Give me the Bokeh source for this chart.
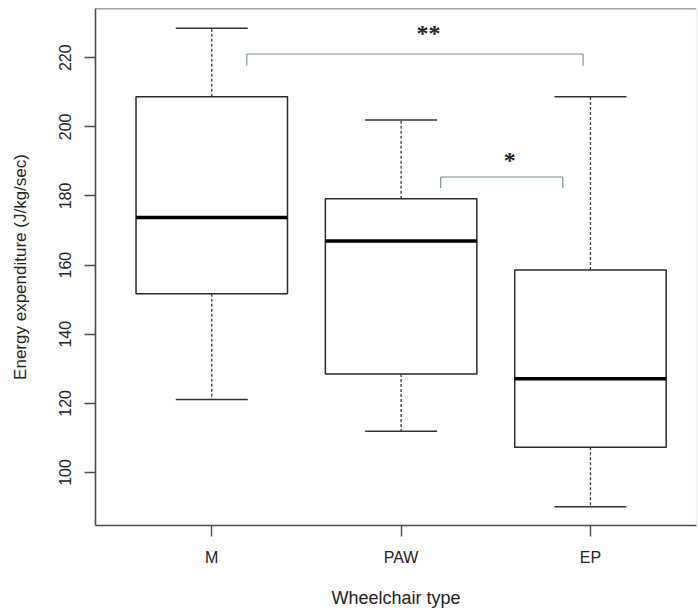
from bokeh.plotting import figure
from bokeh.models import ColumnDataSource, FixedTicker, Range1d, Span
from bokeh.core.properties import value
from bokeh.embed import file_html
from bokeh.resources import INLINE

# ---- data ----
categories = ["M", "PAW", "EP"]
lower_whisker = [121.1, 111.9, 90.1]
q1 = [151.7, 128.5, 107.3]
median = [173.8, 167.0, 127.1]
q3 = [208.7, 179.2, 158.6]
upper_whisker = [228.5, 202.0, 208.7]
y_ticks = [100, 120, 140, 160, 180, 200, 220]

# significance annotations (between groups)
sig_labels = ["**", "*"]
sig_x0 = [1.185, 2.209]
sig_x1 = [2.961, 2.854]
sig_y = [221.1, 185.5]
sig_drop = [3.4, 3.2]
sig_text_x = [2.144, 2.574]
sig_text_y = [227.3, 190.4]

pos = [i + 1 for i in range(len(categories))]
half_box = 0.40
half_cap = 0.19

src = ColumnDataSource(dict(
    x=pos,
    left=[p_ - half_box for p_ in pos],
    right=[p_ + half_box for p_ in pos],
    cap0=[p_ - half_cap for p_ in pos],
    cap1=[p_ + half_cap for p_ in pos],
    lw=lower_whisker, q1=q1, med=median, q3=q3, uw=upper_whisker,
))

x_start, x_end = 0.386, 3.56
y_start, y_end = 84.65, 234.25

p = figure(width=698, height=610, output_backend="svg", toolbar_location=None,
           x_range=Range1d(x_start, x_end), y_range=Range1d(y_start, y_end),
           min_border_left=95, min_border_right=2, min_border_top=8, min_border_bottom=85)
p.grid.visible = False
p.outline_line_color = None
p.background_fill_color = "white"
p.border_fill_color = "white"

frame_col = "#4a4a4a"
for ax in (p.xaxis[0], p.yaxis[0]):
    ax.axis_line_color = frame_col
    ax.axis_line_width = 1.6
    ax.major_tick_line_color = frame_col
    ax.major_tick_line_width = 1.4
    ax.major_tick_out = 11
    ax.major_tick_in = 0
    ax.minor_tick_line_color = None
    ax.major_label_text_font = "Liberation Sans"
    ax.major_label_text_font_size = "16px"
    ax.major_label_text_color = "#222222"
    ax.axis_label_text_font = "Liberation Sans"
    ax.axis_label_text_font_style = "normal"
    ax.axis_label_text_color = "#222222"

p.yaxis.ticker = FixedTicker(ticks=y_ticks)
p.yaxis.major_label_orientation = "parallel"
p.yaxis.major_label_standoff = 13
p.yaxis.axis_label = "Energy expenditure (J/kg/sec)"
p.yaxis.axis_label_text_font_size = "17px"
p.yaxis.axis_label_standoff = 27

p.xaxis.ticker = FixedTicker(ticks=pos)
p.xaxis.major_label_overrides = {p_: c for p_, c in zip(pos, categories)}
p.xaxis.major_label_standoff = 12
p.xaxis.axis_label = "Wheelchair type"
p.xaxis.axis_label_text_font_size = "18px"
p.xaxis.axis_label_standoff = 19

# top and right frame lines
p.add_layout(Span(location=y_end, dimension="width", line_color=frame_col, line_width=1.6))
p.add_layout(Span(location=x_end, dimension="height", line_color="#e2e2e2", line_width=1.2))

# whiskers
p.segment(x0="x", y0="q3", x1="x", y1="uw", source=src, line_color="#3a3a3a",
          line_width=1.3, line_dash="3 2")
p.segment(x0="x", y0="q1", x1="x", y1="lw", source=src, line_color="#3a3a3a",
          line_width=1.3, line_dash="3 2")
# caps
p.segment(x0="cap0", y0="uw", x1="cap1", y1="uw", source=src, line_color="#333333", line_width=1.5)
p.segment(x0="cap0", y0="lw", x1="cap1", y1="lw", source=src, line_color="#333333", line_width=1.5)
# boxes
p.quad(left="left", right="right", bottom="q1", top="q3", source=src,
       fill_color="white", line_color="#2a2a2a", line_width=1.5)
# medians
p.segment(x0="left", y0="med", x1="right", y1="med", source=src, line_color="black", line_width=3.5)

# significance brackets
bcol = "#6f8b92"
sig_src = ColumnDataSource(dict(
    x0=sig_x0, x1=sig_x1, y=sig_y,
    yd=[y - d for y, d in zip(sig_y, sig_drop)],
    tx=sig_text_x, ty=sig_text_y, t=sig_labels,
))
p.segment(x0="x0", y0="y", x1="x1", y1="y", source=sig_src, line_color=bcol, line_width=1.1)
p.segment(x0="x0", y0="y", x1="x0", y1="yd", source=sig_src, line_color=bcol, line_width=1.1)
p.segment(x0="x1", y0="y", x1="x1", y1="yd", source=sig_src, line_color=bcol, line_width=1.1)
p.text(x="tx", y="ty", text="t", source=sig_src, text_font=value("Liberation Serif"),
       text_font_size="24px", text_font_style="bold", text_color="#222222",
       text_align="center", text_baseline="middle")

open("out.html", "w").write(file_html(p, INLINE))
